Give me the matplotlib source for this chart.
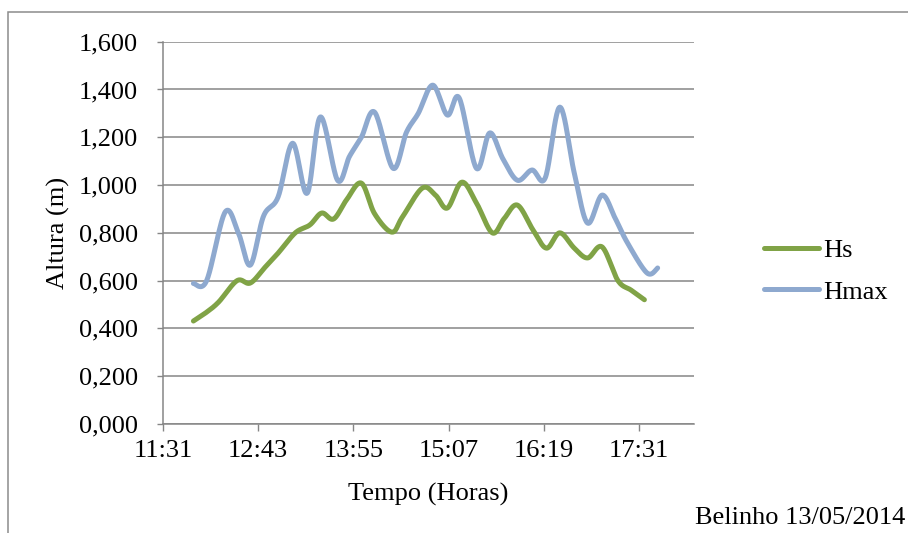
import numpy as np
import matplotlib.pyplot as plt
from matplotlib.patches import Rectangle

# leituras da boia (hora, altura em m)
hs_horas = ['11:54', '12:03', '12:13', '12:27', '12:37', '12:48', '12:58', '13:11',
            '13:22', '13:31', '13:40', '13:50', '14:01', '14:11', '14:24', '14:32',
            '14:47', '14:57', '15:06', '15:17', '15:28', '15:40', '15:49', '15:59',
            '16:11', '16:21', '16:31', '16:42', '16:52', '17:03', '17:15', '17:25',
            '17:35']
hs_valores = [0.431, 0.464, 0.510, 0.600, 0.590, 0.655, 0.715, 0.800,
              0.833, 0.883, 0.858, 0.940, 1.008, 0.880, 0.803, 0.866,
              0.987, 0.958, 0.904, 1.012, 0.925, 0.800, 0.860, 0.916,
              0.810, 0.736, 0.800, 0.736, 0.695, 0.741, 0.600, 0.560,
              0.520]

hmax_horas = ['11:54', '12:04', '12:18', '12:28', '12:37', '12:47', '12:58', '13:09',
              '13:20', '13:30', '13:43', '13:52', '14:01', '14:11', '14:25', '14:35',
              '14:44', '14:55', '15:06', '15:15', '15:28', '15:38', '15:48', '15:59',
              '16:10', '16:20', '16:31', '16:42', '16:52', '17:03', '17:13', '17:22',
              '17:37', '17:45']
hmax_valores = [0.588, 0.600, 0.887, 0.800, 0.665, 0.870, 0.950, 1.175,
                0.966, 1.285, 1.020, 1.120, 1.200, 1.305, 1.070, 1.220,
                1.300, 1.418, 1.293, 1.364, 1.070, 1.218, 1.110, 1.020,
                1.063, 1.030, 1.326, 1.050, 0.841, 0.958, 0.860, 0.760,
                0.632, 0.653]

x_ticks = ['11:31', '12:43', '13:55', '15:07', '16:19', '17:31']
y_ticks = [0.0, 0.2, 0.4, 0.6, 0.8, 1.0, 1.2, 1.4, 1.6]


def minutos(h):
    hh, mm = h.split(':')
    return int(hh) * 60 + int(mm)


def suavizar(x, y, n=25):
    # curva suave tipo Excel (bezier com tangentes catmull-rom), em escala de ecra
    sx, sy = 1.324, 239.0
    P = np.column_stack([np.asarray(x, float) * sx, np.asarray(y, float) * sy])
    t = np.linspace(0, 1, n)[:, None]
    pts = []
    for i in range(len(P) - 1):
        p0 = P[max(i - 1, 0)]
        p1 = P[i]
        p2 = P[i + 1]
        p3 = P[min(i + 2, len(P) - 1)]
        c1 = p1 + (p2 - p0) / 6
        c2 = p2 - (p3 - p1) / 6
        seg = (1 - t)**3 * p1 + 3 * (1 - t)**2 * t * c1 + 3 * (1 - t) * t**2 * c2 + t**3 * p2
        pts.append(seg if i == 0 else seg[1:])
    pts = np.vstack(pts)
    return pts[:, 0] / sx, pts[:, 1] / sy


plt.rcParams['font.family'] = ['Liberation Serif', 'DejaVu Serif']
plt.rcParams['font.size'] = 19

cinza = '#868686'
fig = plt.figure(figsize=(9.08, 5.33), dpi=100)
ax = fig.add_axes([163 / 908, 1 - 424 / 533, 531 / 908, 382.3 / 533])

x, y = suavizar([minutos(h) for h in hs_horas], hs_valores)
ax.plot(x, y, color='#80A346', lw=3.6, solid_capstyle='round', label='Hs', zorder=3)
x, y = suavizar([minutos(h) for h in hmax_horas], hmax_valores)
ax.plot(x, y, color='#8EA9CF', lw=3.6, solid_capstyle='round', label='Hmax', zorder=3)

ax.set_xlim(691, 1092.5)
ax.set_ylim(0, 1.6)
ax.set_xticks([minutos(h) for h in x_ticks])
ax.set_xticklabels(x_ticks)
ax.set_yticks(y_ticks)
ax.set_yticklabels([f'{v:.3f}'.replace('.', ',') for v in y_ticks])
ax.grid(axis='y', color=cinza, lw=1.1)
ax.set_axisbelow(True)
for s in ['top', 'right']:
    ax.spines[s].set_visible(False)
for s in ['left', 'bottom']:
    ax.spines[s].set_color(cinza)
    ax.spines[s].set_linewidth(1.1)
ax.tick_params(axis='y', color=cinza, length=4.5, width=1, pad=13.5)
ax.tick_params(axis='x', color=cinza, length=5, width=1, pad=6.5)

ax.set_xlabel('Tempo (Horas)', va='center')
ax.xaxis.set_label_coords(0.5, (424 - 494) / 382.3)
ax.set_ylabel('Altura (m)', va='center')
ax.yaxis.set_label_coords((58 - 163) / 531, 0.5)

ax.legend(loc='center left', bbox_to_anchor=(764 / 908, 1 - 271 / 533),
          bbox_transform=fig.transFigure, frameon=False, borderpad=0,
          borderaxespad=0, handlelength=2.1, handletextpad=0.15, labelspacing=0.7)

fig.text(905 / 908, 1 - 518 / 533, 'Belinho 13/05/2014', ha='right', va='center')
fig.patches.append(Rectangle((8 / 908, -0.1), 1.2, 1.1 - 12 / 533,
                             transform=fig.transFigure, fill=False,
                             edgecolor='#8C8C8C', lw=1.1, clip_on=False))

fig.savefig('out.png', dpi=100)
